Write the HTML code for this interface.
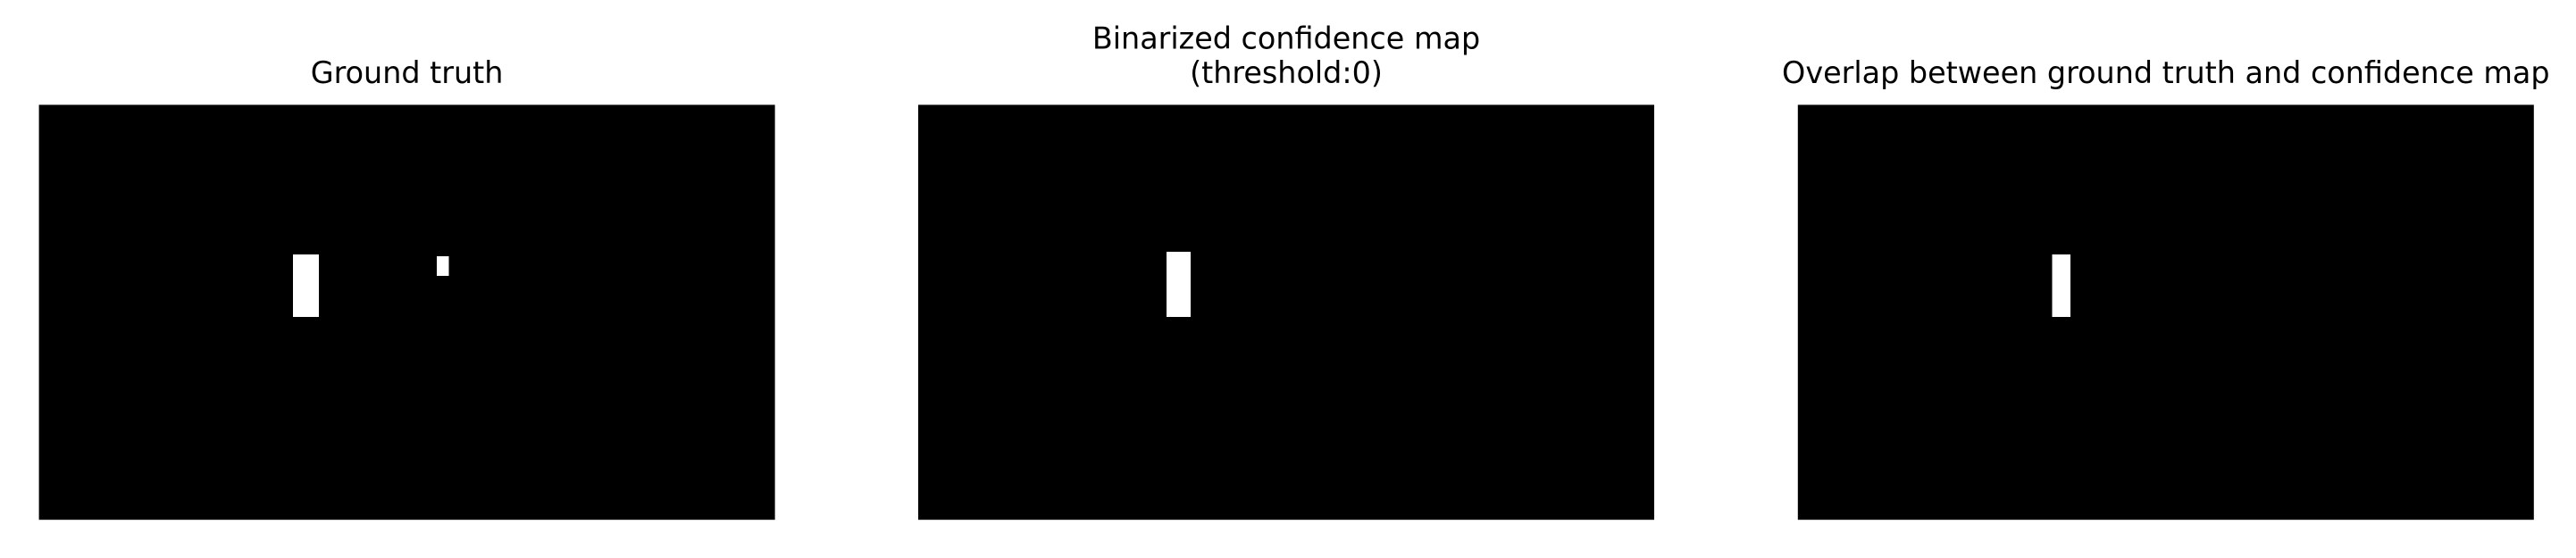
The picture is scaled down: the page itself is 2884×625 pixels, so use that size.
<!DOCTYPE html>
<html lang="en">
<head>
<meta charset="utf-8">
<title>Ground truth and confidence map comparison</title>
<style>
  html, body { margin: 0; padding: 0; background: #fff; width: 2884px; height: 625px; overflow: hidden; }
  svg { display: block; }
  text { font-family: "DejaVu Sans", "Liberation Sans", sans-serif; font-size: 33.4px; fill: #000; text-anchor: middle; }
</style>
</head>
<body>
<svg id="figure" xmlns="http://www.w3.org/2000/svg" width="2884" height="625" viewBox="0 0 2884 625"></svg>
<script>
// Image size of the masks, in image pixels
const imageWidth = 1280;
const imageHeight = 720;

// Panel titles (one array of lines per panel)
const panelNames = ['ground-truth', 'binarized-confidence-map', 'overlap'];
const panelTitles = [
  ['Ground truth'],
  ['Binarized confidence map', '(threshold:0)'],
  ['Overlap between ground truth and confidence map']
];

// White mask regions, in image pixels
const groundTruthX0 = [442, 692];
const groundTruthX1 = [487, 713];
const groundTruthY0 = [260, 263];
const groundTruthY1 = [368, 297];

const confidenceX0 = [432];
const confidenceX1 = [474];
const confidenceY0 = [255];
const confidenceY1 = [368];

const overlapX0 = [442];
const overlapX1 = [474];
const overlapY0 = [260];
const overlapY1 = [368];

const panelRegions = [
  [groundTruthX0, groundTruthX1, groundTruthY0, groundTruthY1],
  [confidenceX0, confidenceX1, confidenceY0, confidenceY1],
  [overlapX0, overlapX1, overlapY0, overlapY1]
];

// Layout
const NS = 'http://www.w3.org/2000/svg';
const svg = document.getElementById('figure');
const panelLefts = [43.6, 1028, 2012.8];
const panelW = 824;
const panelTop = 117.4;
const panelH = 464.8;
const lastBaseline = 93;
const lineGap = 38.5;

function xAxis(panelIndex, v) { return panelLefts[panelIndex] + v / imageWidth * panelW; }
function yAxis(v) { return panelTop + v / imageHeight * panelH; }

panelTitles.forEach(function (lines, p) {
  const group = document.createElementNS(NS, 'g');
  
  
  svg.appendChild(group);

  lines.forEach(function (line, i) {
    const t = document.createElementNS(NS, 'text');
    
    
    t.setAttribute('x', panelLefts[p] + panelW / 2);
    t.setAttribute('y', lastBaseline - (lines.length - 1 - i) * lineGap);
    t.textContent = line;
    group.appendChild(t);
  });

  const bg = document.createElementNS(NS, 'rect');
  
  
  bg.setAttribute('x', panelLefts[p]);
  bg.setAttribute('y', panelTop);
  bg.setAttribute('width', panelW);
  bg.setAttribute('height', panelH);
  bg.setAttribute('fill', '#000');
  group.appendChild(bg);

  const region = panelRegions[p];
  region[0].forEach(function (x0, k) {
    const r = document.createElementNS(NS, 'rect');
    
    
    const left = xAxis(p, x0);
    const right = xAxis(p, region[1][k]);
    const top = yAxis(region[2][k]);
    const bottom = yAxis(region[3][k]);
    r.setAttribute('x', left);
    r.setAttribute('y', top);
    r.setAttribute('width', right - left);
    r.setAttribute('height', bottom - top);
    r.setAttribute('fill', '#fff');
    r.setAttribute('shape-rendering', 'crispEdges');
    group.appendChild(r);
  });
});
</script>
</body>
</html>
